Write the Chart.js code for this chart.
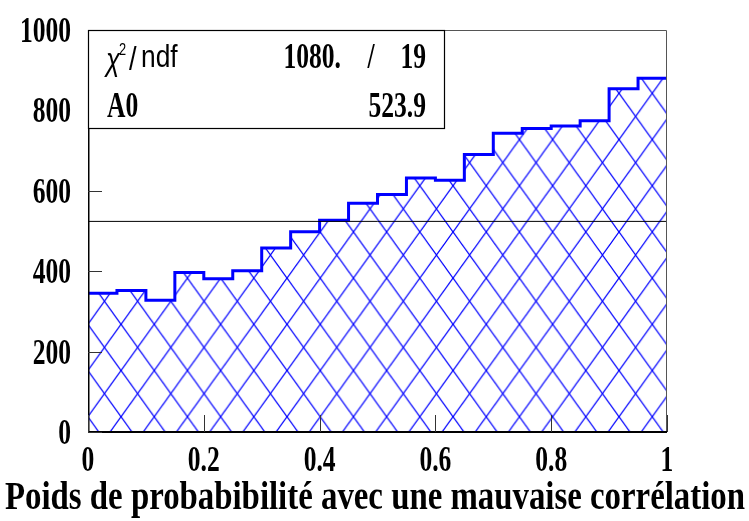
<!DOCTYPE html>
<html>
<head>
<meta charset="utf-8">
<title>Poids de probabilité</title>
<script src="https://cdn.jsdelivr.net/npm/chart.js@4/dist/chart.umd.min.js"></script>
<style>
  html, body { margin: 0; padding: 0; background: #fff; }
  #wrap { width: 749px; height: 521px; }
</style>
</head>
<body>
<div id="wrap"><canvas id="histo" width="749" height="521"></canvas></div>
<script>
// Histogram contents (20 bins between 0 and 1)
const binLow = [0, 0.05, 0.1, 0.15, 0.2, 0.25, 0.3, 0.35, 0.4, 0.45,
                0.5, 0.55, 0.6, 0.65, 0.7, 0.75, 0.8, 0.85, 0.9, 0.95];
const binHigh = 1;
const counts = [345, 352, 328, 397, 381, 401, 458, 498, 527, 569,
                591, 632, 626, 690, 743, 755, 761, 774, 854, 880];

// Constant fit result
const fitA0 = 523.9;
const fitChi2 = '1080.';
const fitNdf = '19';

// Axes
const xTickValues = [0, 0.2, 0.4, 0.6, 0.8, 1];
const xTickLabels = ['0', '0.2', '0.4', '0.6', '0.8', '1'];
const yTickValues = [0, 200, 400, 600, 800, 1000];
const yTickLabels = ['0', '200', '400', '600', '800', '1000'];
const xTitle = 'Poids de probabibilité avec une mauvaise corrélation';

const BLUE = '#0000ff';
const SERIF_BOLD = 'bold 35px "Liberation Serif"';
const NARROW = 0.73;

/**
 * Cross-hatch fill used under the histogram
 */
function makeHatch() {
  const w = 33, h = 46;
  const tile = document.createElement('canvas');
  tile.width = w;
  tile.height = h;
  const c = tile.getContext('2d');
  c.strokeStyle = BLUE;
  c.lineWidth = 1.25;
  c.beginPath();
  for (let k = -1; k <= 1; k++) {
    c.moveTo(k * w - w, -h);
    c.lineTo(k * w + 2 * w, 2 * h);
    c.moveTo(k * w - w, 2 * h);
    c.lineTo(k * w + 2 * w, -h);
  }
  c.stroke();
  const pattern = c.createPattern(tile, 'repeat');
  pattern.setTransform(new DOMMatrix([33.2 / w, 0, 0, 46.2 / h, 121, 416.7]));
  return pattern;
}

/**
 * Draw text squeezed horizontally
 */
function drawText(ctx, text, x, y, align, font, sx) {
  ctx.save();
  ctx.translate(x, y);
  ctx.scale(sx, 1);
  ctx.font = font;
  ctx.textAlign = align;
  ctx.textBaseline = 'alphabetic';
  ctx.fillStyle = '#000';
  ctx.fillText(text, 0, 0);
  ctx.restore();
}

/**
 * Frame, inward ticks, labels, axis title and fit box
 */
const framePlugin = {
  id: 'frame',
  afterDatasetsDraw(chart) {
    const { ctx, chartArea: a, scales: { x, y } } = chart;
    ctx.save();

    // top and right edges
    ctx.strokeStyle = '#555';
    ctx.lineWidth = 1;
    ctx.beginPath();
    ctx.moveTo(a.left, a.top + 0.5);
    ctx.lineTo(a.right - 0.5, a.top + 0.5);
    ctx.lineTo(a.right - 0.5, a.bottom);
    ctx.stroke();

    // y axis
    ctx.strokeStyle = '#000';
    ctx.lineWidth = 1.5;
    ctx.beginPath();
    ctx.moveTo(a.left + 0.75, a.top);
    ctx.lineTo(a.left + 0.75, a.bottom);
    ctx.stroke();

    // x axis
    ctx.lineWidth = 2;
    ctx.beginPath();
    ctx.moveTo(a.left, a.bottom);
    ctx.lineTo(a.right, a.bottom);
    ctx.stroke();

    // ticks
    ctx.lineWidth = 1;
    ctx.strokeStyle = '#333';
    ctx.beginPath();
    yTickValues.forEach(v => {
      const py = Math.round(y.getPixelForValue(v)) + 0.5;
      ctx.moveTo(a.left, py);
      ctx.lineTo(a.left + 14, py);
    });
    xTickValues.forEach(v => {
      const px = Math.round(x.getPixelForValue(v)) + 0.5;
      ctx.moveTo(px, a.bottom);
      ctx.lineTo(px, a.bottom - 17);
    });
    ctx.stroke();

    // tick labels
    yTickValues.forEach((v, i) => {
      drawText(ctx, yTickLabels[i], a.left - 17, y.getPixelForValue(v) + 12, 'right', SERIF_BOLD, NARROW);
    });
    xTickValues.forEach((v, i) => {
      drawText(ctx, xTickLabels[i], x.getPixelForValue(v), a.bottom + 39, 'center', SERIF_BOLD, NARROW);
    });

    // axis title, stretched across the canvas width
    const titleFont = 'bold 40px "Liberation Serif"';
    ctx.font = titleFont;
    const tw = ctx.measureText(xTitle).width;
    drawText(ctx, xTitle, 375, 509, 'center', titleFont, 740 / tw);

    // fit box
    const bx = a.left + 0.5, by = a.top + 0.5, bw = 356, bh = 98;
    ctx.fillStyle = '#fff';
    ctx.fillRect(bx, by, bw, bh);
    ctx.strokeStyle = '#000';
    ctx.lineWidth = 1.2;
    ctx.strokeRect(bx, by, bw, bh);

    drawText(ctx, '\u03c7', 106, 70, 'left', 'italic 32px "Liberation Sans"', 0.8);
    drawText(ctx, '2', 119, 55, 'left', '16px "Liberation Sans"', 0.8);
    drawText(ctx, '/', 129, 70, 'left', '34px "Liberation Sans"', 0.8);
    drawText(ctx, 'ndf', 141, 67, 'left', '31px "Liberation Sans"', 0.85);
    drawText(ctx, fitChi2, 341, 68, 'right', SERIF_BOLD, NARROW);
    drawText(ctx, '/', 371, 68, 'center', SERIF_BOLD, NARROW);
    drawText(ctx, fitNdf, 426, 68, 'right', SERIF_BOLD, NARROW);
    drawText(ctx, 'A0', 107, 116.5, 'left', SERIF_BOLD, NARROW);
    drawText(ctx, fitA0.toFixed(1), 426, 116.5, 'right', SERIF_BOLD, NARROW);

    ctx.restore();
  }
};

// step outline: each bin's value runs up to the next edge
const histPoints = binLow.map((lo, i) => ({ x: lo, y: counts[i] }));
histPoints.push({ x: binHigh, y: counts[counts.length - 1] });

new Chart(document.getElementById('histo'), {
  type: 'line',
  data: {
    datasets: [
      {
        label: 'fit',
        data: [{ x: 0, y: fitA0 }, { x: binHigh, y: fitA0 }],
        borderColor: '#000',
        borderWidth: 1,
        pointRadius: 0,
        fill: false,
        order: 0,
      },
      {
        label: 'histo',
        data: histPoints,
        stepped: 'before',
        borderColor: BLUE,
        borderWidth: 3,
        borderJoinStyle: 'miter',
        backgroundColor: makeHatch(),
        fill: 'origin',
        pointRadius: 0,
        order: 1,
      },
    ],
  },
  options: {
    responsive: false,
    animation: false,
    devicePixelRatio: 1,
    layout: { padding: { left: 88, top: 30, right: 82, bottom: 89 } },
    scales: {
      x: { type: 'linear', min: 0, max: 1, display: false },
      y: { type: 'linear', min: 0, max: 1000, display: false },
    },
    plugins: {
      legend: { display: false },
      tooltip: { enabled: false },
    },
  },
  plugins: [framePlugin],
});
</script>
</body>
</html>
